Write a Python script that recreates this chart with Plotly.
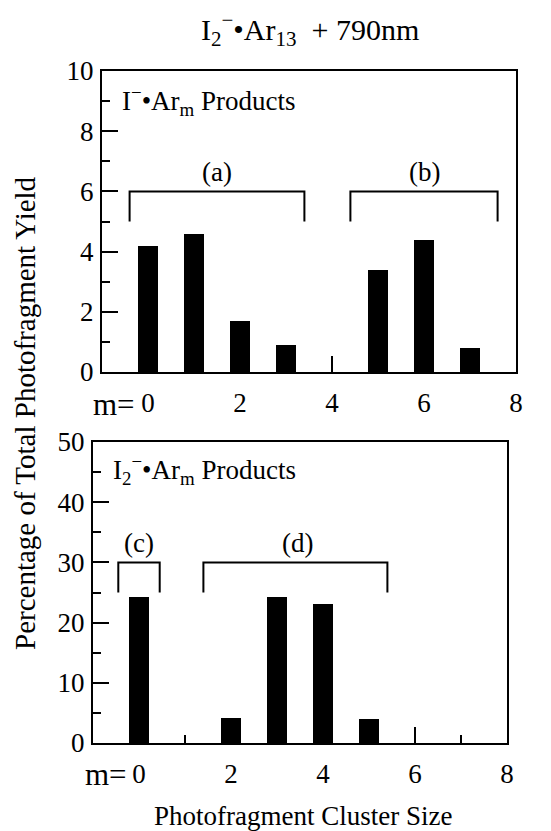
import plotly.graph_objects as go

# ---- data ----
top_m = [0, 1, 2, 3, 5, 6, 7]
top_yield = [4.2, 4.6, 1.7, 0.9, 3.4, 4.4, 0.8]
bot_m = [0, 2, 3, 4, 5]
bot_yield = [24.3, 4.2, 24.2, 23.1, 4.0]
x_tickvals = [0, 2, 4, 6, 8]
x_ticktext = ["0", "2", "4", "6", "8"]
top_yticks = [0, 2, 4, 6, 8, 10]
bot_yticks = [0, 10, 20, 30, 40, 50]
# brackets: (x_left, x_right, y_bar, y_leg_end, label, label_x, label_y)
top_brackets = [(-0.4, 3.4, 6.0, 5.0, "(a)", 1.5, 6.65),
                (4.4, 7.6, 6.0, 5.0, "(b)", 6.0, 6.65)]
bot_brackets = [(-0.45, 0.45, 30.0, 25.0, "(c)", 0.0, 33.3),
                (1.4, 5.4, 30.0, 25.0, "(d)", 3.45, 33.3)]

W, H = 551, 831
OFF = 8  # page body margin offset
FONT = "Liberation Serif"
FS = 27

def px_x(p):
    return (p - OFF) / W

def px_y(p):
    return 1 - (p - OFF) / H

fig = go.Figure()
fig.add_trace(go.Bar(x=top_m, y=top_yield, width=0.42, marker=dict(color="black", line=dict(width=0)),
                     xaxis="x", yaxis="y", showlegend=False))
fig.add_trace(go.Bar(x=bot_m, y=bot_yield, width=0.42, marker=dict(color="black", line=dict(width=0)),
                     xaxis="x2", yaxis="y2", showlegend=False))

axis_common = dict(showline=True, linecolor="black", linewidth=2, mirror=True,
                   ticks="inside", tickcolor="black", tickwidth=2, ticklen=16,
                   showgrid=False, zeroline=False, automargin=False,
                   tickfont=dict(family=FONT, size=FS, color="black"))
minor_common = dict(ticks="inside", ticklen=8, tickcolor="black", tickwidth=2)

fig.update_layout(
    width=W, height=H,
    margin=dict(l=0, r=0, t=0, b=0, pad=0),
    paper_bgcolor="white", plot_bgcolor="white",
    bargap=0,
    xaxis=dict(domain=[px_x(102), px_x(516)], range=[-1, 8], anchor="y",
               tickvals=x_tickvals, ticktext=x_ticktext, ticklabelstandoff=6,
               minor=dict(dtick=1, tick0=0, **minor_common), **axis_common),
    yaxis=dict(domain=[px_y(372), px_y(71)], range=[0, 10], anchor="x",
               tickvals=top_yticks, ticklabelstandoff=1,
               minor=dict(dtick=1, tick0=0, **minor_common), **axis_common),
    xaxis2=dict(domain=[px_x(93), px_x(507)], range=[-1, 8], anchor="y2",
                tickvals=x_tickvals, ticktext=x_ticktext, ticklabelstandoff=6,
                minor=dict(dtick=1, tick0=0, **minor_common), **axis_common),
    yaxis2=dict(domain=[px_y(743), px_y(442)], range=[0, 50], anchor="x2",
                tickvals=bot_yticks, ticklabelstandoff=1,
                minor=dict(dtick=5, tick0=0, **minor_common), **axis_common),
)

shapes = []
annotations = []

def ann(**kw):
    base = dict(showarrow=False, xanchor="center", yanchor="middle",
                font=dict(family=FONT, size=FS, color="black"))
    base.update(kw)
    annotations.append(base)

for (xr, yr, brackets) in (("x", "y", top_brackets), ("x2", "y2", bot_brackets)):
    for (x0, x1, yb, yl, lab, lx, ly) in brackets:
        shapes.append(dict(type="path", xref=xr, yref=yr,
                           path=f"M {x0},{yl} L {x0},{yb} L {x1},{yb} L {x1},{yl}",
                           line=dict(color="black", width=2)))
        ann(xref=xr, yref=yr, x=lx, y=ly, text=lab)

# panel labels
ann(xref="x", yref="y", x=-0.6, y=9.0, xanchor="left",
    text="I<sup>−</sup>•Ar<sub>m</sub> Products")
ann(xref="x2", yref="y2", x=-0.6, y=45.3, xanchor="left",
    text="I<sub>2</sub><sup>−</sup>•Ar<sub>m</sub> Products")
# m= labels
ann(xref="paper", yref="paper", x=px_x(137), y=px_y(404), xanchor="right",
    text="m=", font=dict(family=FONT, size=31, color="black"))
ann(xref="paper", yref="paper", x=px_x(129), y=px_y(774), xanchor="right",
    text="m=", font=dict(family=FONT, size=31, color="black"))
# title
ann(xref="paper", yref="paper", x=px_x(310), y=px_y(29),
    text="I<sub>2</sub><sup>−</sup>•Ar<sub>13</sub>  + 790nm",
    font=dict(family=FONT, size=30, color="black"))
# axis titles
ann(xref="paper", yref="paper", x=px_x(25), y=px_y(413), textangle=-90,
    text="Percentage of Total Photofragment Yield",
    font=dict(family=FONT, size=29, color="black"))
ann(xref="paper", yref="paper", x=px_x(303), y=px_y(816),
    text="Photofragment Cluster Size",
    font=dict(family=FONT, size=27, color="black"))

fig.update_layout(shapes=shapes, annotations=annotations)
fig.write_html("out.html")
